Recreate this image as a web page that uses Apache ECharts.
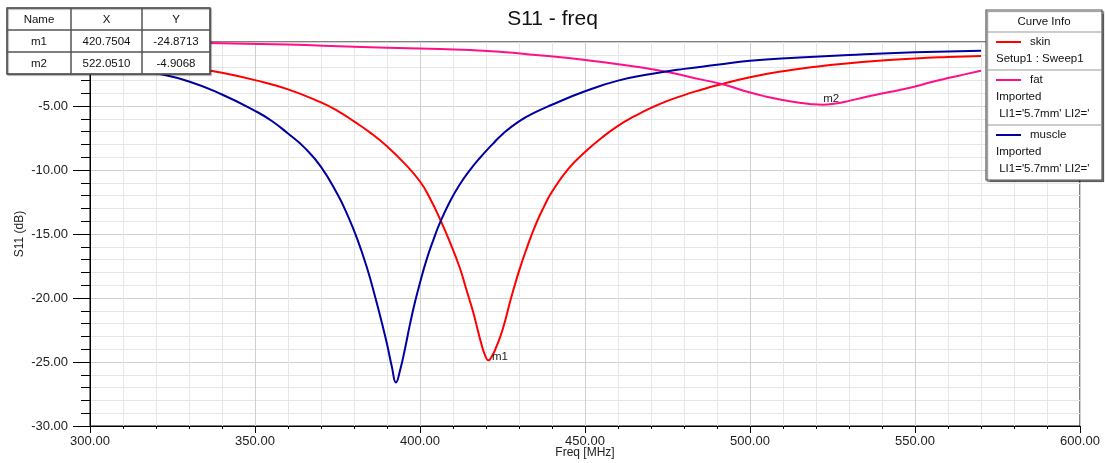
<!DOCTYPE html>
<html>
<head>
<meta charset="utf-8">
<script src="https://cdn.jsdelivr.net/npm/echarts@6/dist/echarts.min.js"></script>
<style>
  html, body { margin: 0; padding: 0; background: #fff; }
  #chart { width: 1105px; height: 463px; }
</style>
</head>
<body>
<div id="chart"></div>
<script>
// ---- Sweep data: S11 (dB) versus frequency (MHz) ----
const skinFreq = [300, 310, 320, 330, 340, 350, 360, 370, 375, 380, 385, 390, 395, 400, 403, 406, 409, 412, 414, 416, 417.5, 418.5, 419.6, 420.75, 421.9, 423, 425, 427.5, 430, 432.5, 435, 437.5, 440, 445, 450, 455, 460, 465, 470, 475, 480, 485, 490, 500, 510, 520, 530, 540, 550, 560, 570];
const skinS11  = [-1.20, -1.45, -1.70, -1.98, -2.40, -2.98, -3.70, -4.72, -5.38, -6.20, -7.10, -8.15, -9.40, -10.90, -12.20, -13.80, -15.60, -17.60, -19.30, -21.00, -22.50, -23.50, -24.40, -24.8713, -24.50, -23.90, -22.50, -20.10, -17.90, -16.00, -14.30, -12.90, -11.70, -9.90, -8.60, -7.50, -6.55, -5.80, -5.15, -4.60, -4.15, -3.75, -3.38, -2.75, -2.28, -1.93, -1.66, -1.45, -1.28, -1.17, -1.09];

const fatFreq = [300, 320, 340, 360, 380, 400, 415, 425, 435, 445, 455, 465, 475, 485, 492, 500, 505, 510, 515, 518, 522.051, 526, 530, 535, 540, 545, 550, 555, 560, 565, 570];
const fatS11  = [-0.03, -0.05, -0.10, -0.20, -0.37, -0.51, -0.62, -0.78, -1.01, -1.25, -1.56, -1.91, -2.34, -2.92, -3.32, -3.95, -4.27, -4.53, -4.74, -4.84, -4.9068, -4.80, -4.60, -4.30, -4.03, -3.77, -3.48, -3.13, -2.82, -2.53, -2.25];

const muscleFreq = [300, 310, 320, 330, 340, 350, 355, 360, 365, 370, 375, 378, 381, 384, 386.5, 388.5, 390, 391.5, 392.7, 394, 395.5, 397, 398.5, 400, 402, 404, 406, 409, 412, 415, 418, 422, 425, 430, 435, 440, 450, 460, 470, 480, 490, 500, 515, 530, 550, 570];
const muscleS11  = [-1.65, -2.00, -2.44, -3.08, -4.10, -5.38, -6.15, -7.15, -8.25, -9.75, -11.90, -13.50, -15.40, -17.70, -20.00, -22.00, -23.60, -25.40, -26.60, -25.60, -23.90, -22.00, -20.30, -18.80, -17.00, -15.50, -14.15, -12.50, -11.15, -10.05, -9.10, -7.98, -7.20, -6.20, -5.48, -4.90, -3.85, -3.02, -2.50, -2.10, -1.78, -1.46, -1.22, -1.02, -0.81, -0.68];

// ---- Markers ----
const markerNames  = ['m1', 'm2'];
const markerX      = [420.7504, 522.0510];
const markerY      = [-24.8713, -4.9068];
const markerSeries = ['skin', 'fat'];

// ---- Curve info ----
const curveNames  = ['skin', 'fat', 'muscle'];
const curveColors = ['#ff0000', '#ff1088', '#0000a0'];
const curveNotes  = [['Setup1 : Sweep1'], ['Imported', " LI1='5.7mm' LI2='"], ['Imported', " LI1='5.7mm' LI2='"]];

// ---- Axis settings ----
const xMin = 300, xMax = 600, xStep = 50;
const yMin = -30, yMax = 0, yStep = 5;
const xTitle = 'Freq [MHz]';
const yTitle = 'S11 (dB)';

const FONT = '"Liberation Sans", Arial, Helvetica, sans-serif';
const TOP_Z = 100;
const GRID = { left: 90, right: 25, top: 42, bottom: 37 };
const W = 1105, H = 463;
const chart = echarts.init(document.getElementById('chart'), null, { renderer: 'canvas' });

const pairs = (fs, vs) => fs.map((f, i) => [f, vs[i]]);
const seriesData = {
  skin: pairs(skinFreq, skinS11),
  fat: pairs(fatFreq, fatS11),
  muscle: pairs(muscleFreq, muscleS11)
};

// marker labels attached to their curves
const markerLabelOffsets = { m1: [-2, -4], m2: [-5, -6] };
function markPointsFor(name) {
  const data = [];
  markerNames.forEach((m, i) => {
    if (markerSeries[i] === name) {
      data.push({ coord: [markerX[i], markerY[i]], name: m });
    }
  });
  if (!data.length) return undefined;
  return {
    symbol: 'circle',
    symbolSize: 1,
    itemStyle: { color: 'rgba(0,0,0,0)' },
    label: {
      show: true,
      position: 'right',
      formatter: p => p.name,
      color: '#222',
      fontFamily: FONT,
      fontSize: 11.5,
      offset: markerLabelOffsets[data[0].name]
    },
    data
  };
}

const series = curveNames.map((name, i) => ({
  name,
  type: 'line',
  data: seriesData[name],
  showSymbol: false,
  smooth: 0.5,
  lineStyle: { color: curveColors[i], width: 2 },
  itemStyle: { color: curveColors[i] },
  clip: true,
  z: 3 + (name === 'muscle' ? 1 : 0),
  markPoint: markPointsFor(name)
}));

const overlay = [];

// ---- Axis titles ----
const plotMidX = GRID.left + (W - GRID.left - GRID.right) / 2;
const plotMidY = GRID.top + (H - GRID.top - GRID.bottom) / 2;
overlay.push({
  type: 'text', z: 10,
  x: plotMidX, y: H - 10,
  style: { text: xTitle, align: 'center', verticalAlign: 'middle', fontFamily: FONT, fontSize: 12, fill: '#222' }
});
overlay.push({
  type: 'text', z: 10,
  x: 20, y: plotMidY, rotation: Math.PI / 2,
  style: { text: yTitle, align: 'center', verticalAlign: 'middle', fontFamily: FONT, fontSize: 12, fill: '#222' }
});

// ---- Marker table (top left) ----
const tbl = { x: 7, y: 8, cols: [64, 71, 68], rowH: 22 };
const tableRows = [['Name', 'X', 'Y']].concat(
  markerNames.map((m, i) => [m, markerX[i].toFixed(4), markerY[i].toFixed(4)])
);
const tW = tbl.cols.reduce((a, b) => a + b, 0);
const tH = tbl.rowH * tableRows.length;
overlay.push({
  type: 'rect', z: TOP_Z, shape: { x: tbl.x, y: tbl.y, width: tW, height: tH },
  style: { fill: '#fff', stroke: '#555', lineWidth: 1.5, shadowColor: 'rgba(0,0,0,0.35)', shadowOffsetX: 1, shadowOffsetY: 1, shadowBlur: 1 }
});
tableRows.forEach((row, r) => {
  let cx = tbl.x;
  row.forEach((cell, c) => {
    const w = tbl.cols[c];
    overlay.push({
      type: 'rect', z: TOP_Z + 1, shape: { x: cx, y: tbl.y + r * tbl.rowH, width: w, height: tbl.rowH },
      style: { fill: null, stroke: '#555', lineWidth: 1 }
    });
    overlay.push({
      type: 'text', z: TOP_Z + 2,
      style: {
        x: cx + w / 2, y: tbl.y + r * tbl.rowH + tbl.rowH / 2 + 1,
        text: cell, align: 'center', verticalAlign: 'middle',
        fontFamily: FONT, fontSize: 11.5, fill: '#111'
      }
    });
    cx += w;
  });
});

// ---- Curve info box (top right) ----
const lg = { x: 986, y: 10, w: 116, headH: 22 };
const lineGap = 17;
const sectionH = curveNotes.map(n => 21 + n.length * lineGap);
const lgH = lg.headH + sectionH.reduce((a, b) => a + b, 0);
overlay.push({
  type: 'rect', z: TOP_Z, shape: { x: lg.x, y: lg.y, width: lg.w, height: lgH },
  style: { fill: '#fff', stroke: '#555', lineWidth: 1.2, shadowColor: 'rgba(0,0,0,0.45)', shadowOffsetX: 1.5, shadowOffsetY: 1.5, shadowBlur: 1 }
});
overlay.push({
  type: 'text', z: TOP_Z + 2,
  style: { x: lg.x + lg.w / 2, y: lg.y + lg.headH / 2 + 1, text: 'Curve Info', align: 'center', verticalAlign: 'middle', fontFamily: FONT, fontSize: 11.5, fill: '#111' }
});
let sy = lg.y + lg.headH;
curveNames.forEach((name, i) => {
  overlay.push({
    type: 'line', z: TOP_Z + 1, shape: { x1: lg.x, y1: sy, x2: lg.x + lg.w, y2: sy },
    style: { stroke: '#999', lineWidth: 1 }
  });
  const ly = sy + 10;
  overlay.push({
    type: 'line', z: TOP_Z + 1, shape: { x1: lg.x + 10, y1: ly, x2: lg.x + 35, y2: ly },
    style: { stroke: curveColors[i], lineWidth: 2 }
  });
  overlay.push({
    type: 'text', z: TOP_Z + 2,
    style: { x: lg.x + 44, y: ly, text: name, align: 'left', verticalAlign: 'middle', fontFamily: FONT, fontSize: 11.5, fill: '#111' }
  });
  curveNotes[i].forEach((note, k) => {
    overlay.push({
      type: 'text', z: TOP_Z + 2,
      style: { x: lg.x + 10, y: ly + (k + 1) * lineGap, text: note, align: 'left', verticalAlign: 'middle', fontFamily: FONT, fontSize: 11.5, fill: '#111' }
    });
  });
  sy += sectionH[i];
});

const option = {
  animation: false,
  backgroundColor: '#fff',
  title: {
    text: 'S11 - freq',
    left: 'center',
    top: 4,
    textStyle: { fontFamily: FONT, fontSize: 21, fontWeight: 'normal', color: '#111' }
  },
  grid: {
    left: GRID.left, right: GRID.right, top: GRID.top, bottom: GRID.bottom,
    outerBoundsMode: 'none',
    containLabel: false,
    show: true, borderColor: '#000', borderWidth: 1, backgroundColor: 'transparent'
  },
  xAxis: {
    type: 'value',
    min: xMin, max: xMax, interval: xStep,
    axisLine: { show: true, onZero: false, lineStyle: { color: '#000', width: 1 } },
    axisTick: { show: true, length: 7, lineStyle: { color: '#000' } },
    minorTick: { show: true, splitNumber: 5, length: 3, lineStyle: { color: '#000' } },
    axisLabel: { margin: 9, fontFamily: FONT, fontSize: 13, color: '#222', formatter: v => v.toFixed(2) },
    splitLine: { show: true, lineStyle: { color: '#cfcfcf', width: 1 } },
    minorSplitLine: { show: true, lineStyle: { color: '#e6e6e6', width: 1 } }
  },
  yAxis: {
    type: 'value',
    min: yMin, max: yMax, interval: yStep,
    axisLine: { show: true, onZero: false, lineStyle: { color: '#000', width: 1 } },
    axisTick: { show: true, length: 17, lineStyle: { color: '#000' } },
    minorTick: { show: true, splitNumber: 5, length: 9, lineStyle: { color: '#000' } },
    axisLabel: { margin: 22, fontFamily: FONT, fontSize: 13, color: '#222', formatter: v => v.toFixed(2) },
    splitLine: { show: true, lineStyle: { color: '#cfcfcf', width: 1 } },
    minorSplitLine: { show: true, lineStyle: { color: '#e6e6e6', width: 1 } }
  },
  series,
  graphic: { elements: overlay }
};

chart.setOption(option);
</script>
</body>
</html>
